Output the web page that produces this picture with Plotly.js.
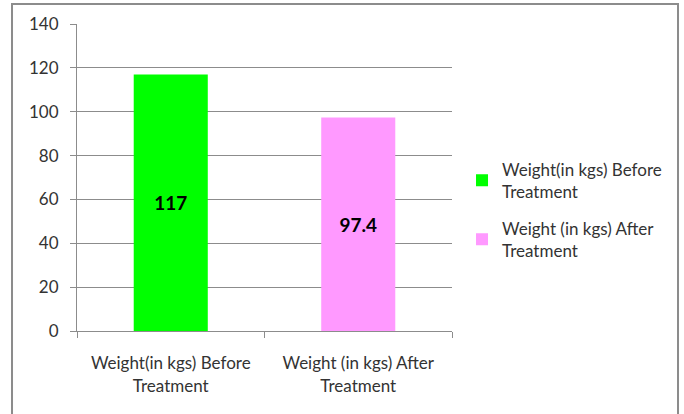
<!DOCTYPE html>
<html>
<head>
<meta charset="utf-8">
<script src="https://cdn.plot.ly/plotly-3.0.1.min.js"></script>
<style>html,body{margin:0;padding:0;background:#fff;}</style>
</head>
<body>
<div id="chart" style="width:684px;height:414px;"></div>
<script>
const categories = ["Weight(in kgs) Before<br>Treatment", "Weight (in kgs) After<br>Treatment"];
const seriesNames = ["Weight(in kgs) Before<br>Treatment", "Weight (in kgs) After<br>Treatment"];
const values = [117, 97.4];
const labels = ["117", "97.4"];
const colors = ["#00ff00", "#ff99ff"];
const yTicks = [0, 20, 40, 60, 80, 100, 120, 140];

const traces = values.map((v, i) => ({
  type: "bar",
  name: seriesNames[i],
  legendgroup: "g" + i,
  x: [categories[i]],
  y: [v],
  text: [labels[i]],
  textposition: "inside",
  insidetextanchor: "middle",
  textangle: 0,
  textfont: {family: "Lato, sans-serif", size: 19, color: "#000", weight: "bold"},
  marker: {color: colors[i], line: {width: 0}},
  width: 0.395,
  hoverinfo: "skip"
}));

const layout = {
  width: 684, height: 414,
  margin: {l: 77, r: 232, t: 24, b: 83},
  paper_bgcolor: "#fff", plot_bgcolor: "#fff",
  barmode: "overlay",
  showlegend: true,
  font: {family: "Lato, sans-serif", size: 17, color: "#333"},
  xaxis: {
    type: "category",
    categoryorder: "array", categoryarray: categories,
    showgrid: false,
    showline: true, linecolor: "#8c8c8c", linewidth: 1,
    ticks: "outside", ticklen: 6, tickcolor: "#8c8c8c",
    tickson: "boundaries",
    ticklabelstandoff: 17,
    tickfont: {size: 17, color: "#333"},
    fixedrange: true
  },
  yaxis: {
    range: [0, 140],
    tickvals: yTicks,
    ticktext: yTicks.map(String),
    showgrid: true, gridcolor: "#8c8c8c", gridwidth: 1,
    showline: true, linecolor: "#8c8c8c", linewidth: 1,
    ticks: "outside", ticklen: 6, tickcolor: "#8c8c8c",
    ticklabelstandoff: 8,
    zeroline: false,
    tickfont: {size: 17, color: "#333"},
    fixedrange: true
  },
  legend: {
    x: 1.0267, y: 0.394, xanchor: "left", yanchor: "middle",
    font: {size: 17, color: "#333"},
    itemwidth: 30,
    bgcolor: "rgba(0,0,0,0)",
    tracegroupgap: 12
  },
  shapes: [{
    type: "rect", xref: "paper", yref: "paper",
    x0: -0.1733, x1: 1.6027, y0: -0.31, y1: 1.0651,
    line: {color: "#8c8c8c", width: 2}, fillcolor: "rgba(0,0,0,0)", layer: "below"
  }]
};

Plotly.newPlot("chart", traces, layout, {displayModeBar: false, staticPlot: true});
</script>
</body>
</html>
